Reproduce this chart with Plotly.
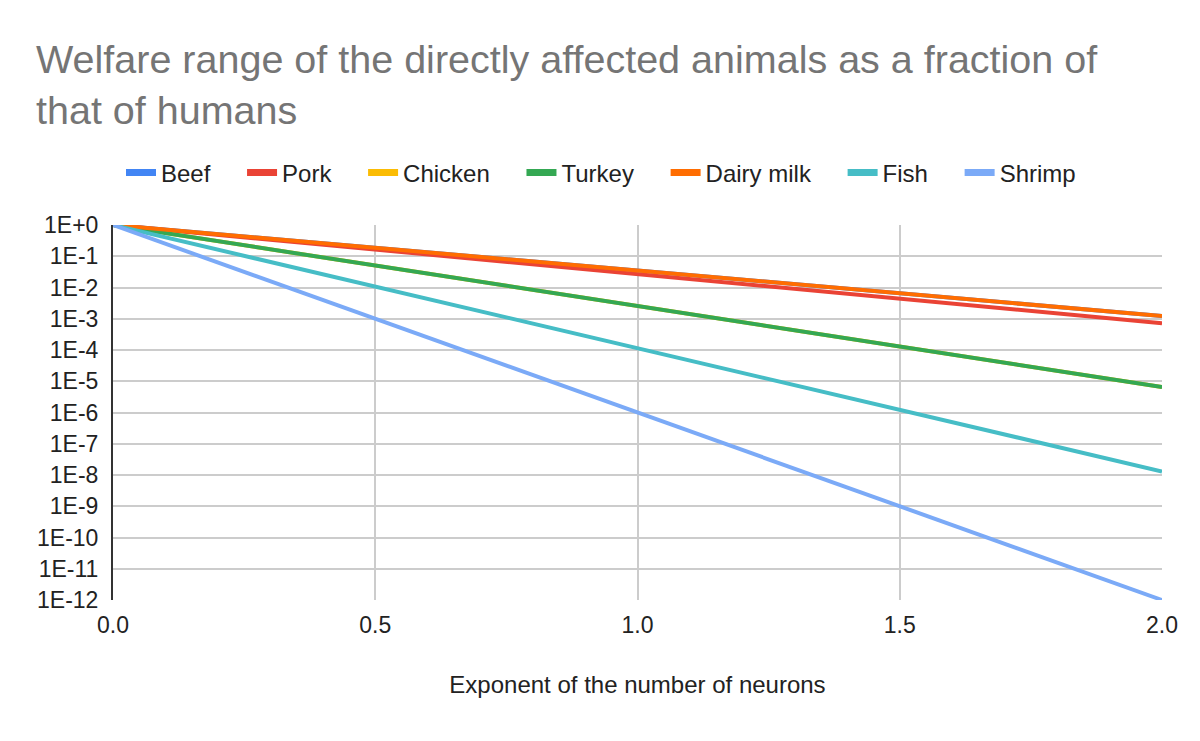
import plotly.graph_objects as go

# Exponent of the number of neurons
exponents = [0.0, 0.5, 1.0, 1.5, 2.0]

# Welfare range as fraction of humans
beef = [1.0, 0.185, 0.034, 6.4e-3, 1.22e-3]
pork = [1.0, 0.163, 0.0268, 4.4e-3, 7.2e-4]
chicken = [1.0, 0.0505, 2.55e-3, 1.29e-4, 6.5e-6]
turkey = [1.0, 0.0505, 2.55e-3, 1.29e-4, 6.5e-6]
dairy_milk = [1.0, 0.185, 0.034, 6.4e-3, 1.22e-3]
fish = [1.0, 0.0107, 1.14e-4, 1.22e-6, 1.3e-8]
shrimp = [1.0, 1e-3, 1e-6, 1e-9, 1e-12]

series_names = ["Beef", "Pork", "Chicken", "Turkey", "Dairy milk", "Fish", "Shrimp"]
series_values = [beef, pork, chicken, turkey, dairy_milk, fish, shrimp]
colors = ["#4285F4", "#EA4335", "#FBBC04", "#34A853", "#FF6D01", "#46BDC6", "#7BAAF7"]

y_tick_exponents = list(range(0, -13, -1))
y_tick_vals = [10.0 ** e for e in y_tick_exponents]
y_tick_text = ["1E+0"] + [f"1E{e}" for e in y_tick_exponents[1:]]

FONT = "Liberation Sans"
PAD = "\u00a0\u00a0\u00a0\u00a0"  # extra spacing between legend entries

fig = go.Figure()
for name, vals, col in zip(series_names, series_values, colors):
    fig.add_trace(go.Scatter(
        x=exponents, y=vals, mode="lines", name=name,
        line=dict(color=col, width=4), showlegend=False, cliponaxis=False,
    ))
# legend entries
for name, col in zip(series_names, colors):
    fig.add_trace(go.Scatter(
        x=[None], y=[None], mode="lines", name=name + PAD,
        line=dict(color=col, width=7), showlegend=True,
    ))

fig.update_layout(
    width=1200, height=741,
    paper_bgcolor="white", plot_bgcolor="white",
    margin=dict(l=105, r=46, t=217, b=149),
    font=dict(family=FONT, size=23, color="#222222"),
    title=dict(
        text="Welfare range of the directly affected animals as a fraction of<br>that of humans",
        font=dict(family=FONT, size=39.5, color="#757575"),
        x=28 / 1200, xanchor="left", xref="container",
        y=1 - 65 / 741, yanchor="top", yref="container",
    ),
    legend=dict(
        orientation="h", x=8 / 1049, xanchor="left", xref="paper",
        y=1 - 165 / 741, yanchor="middle", yref="container",
        font=dict(family=FONT, size=24, color="#222222"),
        itemwidth=30, traceorder="normal",
    ),
    showlegend=True,
)

fig.update_xaxes(
    range=[0, 2], tickvals=exponents, tickformat=".1f",
    showgrid=True, gridcolor="#cccccc", gridwidth=1.6,
    zeroline=False, showline=False,
    ticks="", ticklabelstandoff=9,
    tickfont=dict(family=FONT, size=23, color="#222222"),
    title=dict(text="Exponent of the number of neurons",
               font=dict(family=FONT, size=24, color="#222222"), standoff=39),
)
fig.update_yaxes(
    type="log", range=[-12, 0], tickvals=y_tick_vals, ticktext=y_tick_text,
    showgrid=True, gridcolor="#cccccc", gridwidth=1.6,
    zeroline=False, showline=True, linecolor="#333333", linewidth=2,
    ticks="", ticklabelstandoff=8,
    tickfont=dict(family=FONT, size=23, color="#222222"),
)

fig.write_html("out.html")
